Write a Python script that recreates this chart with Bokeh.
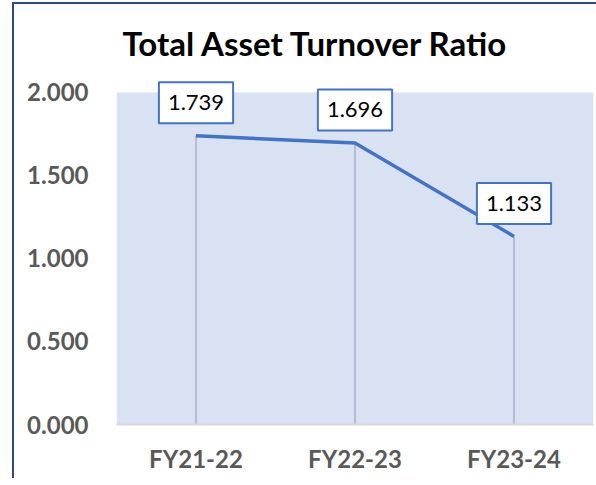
from bokeh.plotting import figure
from bokeh.models import (FactorRange, Range1d, NumeralTickFormatter, FixedTicker,
                          BoxAnnotation)
from bokeh.core.properties import value
from bokeh.embed import file_html
from bokeh.resources import INLINE

categories = ["FY21-22", "FY22-23", "FY23-24"]
ratios = [1.739, 1.696, 1.133]
y_ticks = [0.0, 0.5, 1.0, 1.5, 2.0]
y_min, y_max = 0.0, 2.0
title_text = "Total Asset Turnover Ratio"

FONT = "Lato"

p = figure(
    x_range=FactorRange(*categories),
    y_range=Range1d(y_min, 2.084),
    width=584, height=476,
    output_backend="svg",
    toolbar_location=None,
    title=title_text,
    margin=(2, 0, 0, 12),
    min_border_left=102, min_border_right=5,
    min_border_top=74, min_border_bottom=56,
    styles={"border-left": "2px solid #2F4B7C", "border-top": "2px solid #2F4B7C"},
)

p.title.text_font = FONT
p.title.text_font_size = "33px"
p.title.text_font_style = "bold"
p.title.text_color = "#000000"
p.title.align = "left"
p.title.offset = 6
p.title.standoff = 32

p.background_fill_color = "white"
p.border_fill_color = "white"
p.outline_line_color = None
p.xgrid.grid_line_color = None
p.ygrid.grid_line_color = None

# plot-area fill (0 .. 2.000)
p.add_layout(BoxAnnotation(bottom=y_min, top=y_max, fill_color="#D9E2F3",
                           fill_alpha=1.0, line_color=None, level="underlay"))

p.yaxis.ticker = FixedTicker(ticks=y_ticks)
p.yaxis.formatter = NumeralTickFormatter(format="0.000")
p.yaxis.axis_line_color = None
p.yaxis.major_tick_line_color = None
p.yaxis.minor_tick_line_color = None
p.yaxis.major_label_text_font = FONT
p.yaxis.major_label_text_font_size = "24px"
p.yaxis.major_label_text_font_style = "bold"
p.yaxis.major_label_text_color = "#595959"
p.yaxis.major_label_standoff = 22

p.xaxis.axis_line_color = "#D9D9D9"
p.xaxis.axis_line_width = 2
p.xaxis.major_tick_line_color = None
p.xaxis.minor_tick_line_color = None
p.xaxis.major_label_text_font = FONT
p.xaxis.major_label_text_font_size = "24px"
p.xaxis.major_label_text_font_style = "bold"
p.xaxis.major_label_text_color = "#595959"
p.xaxis.major_label_standoff = 13

# drop lines
p.segment(x0=categories, y0=[0] * len(categories), x1=categories, y1=ratios,
          line_color="#A5B2C8", line_width=1.5)
# main line
p.line(x=categories, y=ratios, line_color="#4472C4", line_width=3.5)

# data labels
p.text(x=categories, y=ratios, text=[f"{v:.3f}" for v in ratios],
       y_offset=-33, text_align="center", text_baseline="middle",
       text_font=value(FONT), text_font_size="22px", text_color="#000000",
       background_fill_color="white",
       border_line_color="#4472C4", border_line_width=2,
       padding=(9, 13))

open("out.html", "w").write(file_html(p, INLINE))
